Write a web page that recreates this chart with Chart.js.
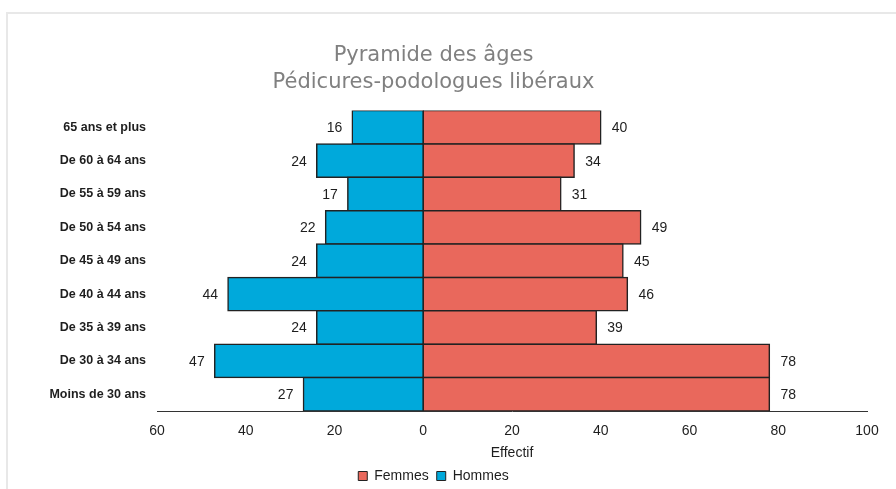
<!DOCTYPE html>
<html lang="fr">
<head>
<meta charset="utf-8">
<title>Pyramide des âges</title>
<script src="https://cdn.jsdelivr.net/npm/chart.js@4/dist/chart.umd.min.js"></script>
<style>
  html, body { margin: 0; padding: 0; background: #fff; }
  #wrap { position: relative; width: 896px; height: 489px; overflow: hidden; }
  #frame { position: absolute; left: 6px; top: 12px; right: 0; bottom: -4px;
           border-top: 2px solid #e8e8e8; border-left: 2px solid #e8e8e8; }
  canvas { position: absolute; left: 0; top: 0; }
</style>
</head>
<body>
<div id="wrap">
  <div id="frame"></div>
  <!-- un peu plus haut que le cadre : la légende déborde légèrement en bas -->
  <canvas id="pyramide" width="896" height="493"></canvas>
</div>
<script>
// Tranches d'âge, de la plus âgée à la plus jeune
const tranches = [
  "65 ans et plus",
  "De 60 à 64 ans",
  "De 55 à 59 ans",
  "De 50 à 54 ans",
  "De 45 à 49 ans",
  "De 40 à 44 ans",
  "De 35 à 39 ans",
  "De 30 à 34 ans",
  "Moins de 30 ans",
];
const femmes = [40, 34, 31, 49, 45, 46, 39, 78, 78];
const hommes = [16, 24, 17, 22, 24, 44, 24, 47, 27];
const titre = ["Pyramide des âges", "Pédicures-podologues libéraux"];

const COUL_FEMMES = "#E9685C";
const COUL_HOMMES = "#00A9DB";
const BORDURE = "#222";
const EP_BORDURE = 1.5;
const TEXTE = "#1e1e1e";
const ARIAL = "'Liberation Sans', Arial, sans-serif";

// étiquettes de valeurs au bout de chaque barre
const etiquettes = {
  id: "etiquettes",
  afterDatasetsDraw(chart) {
    const ctx = chart.ctx;
    ctx.save();
    ctx.font = "14px " + ARIAL;
    ctx.fillStyle = TEXTE;
    ctx.textBaseline = "middle";
    chart.data.datasets.forEach((ds, i) => {
      const meta = chart.getDatasetMeta(i);
      meta.data.forEach((bar, j) => {
        const v = ds.data[j];
        if (v < 0) {
          ctx.textAlign = "right";
          ctx.fillText(String(-v), bar.x - 10, bar.y + 1);
        } else {
          ctx.textAlign = "left";
          ctx.fillText(String(v), bar.x + 11, bar.y + 1);
        }
      });
    });
    ctx.restore();
  },
};

new Chart(document.getElementById("pyramide"), {
  type: "bar",
  data: {
    labels: tranches,
    datasets: [
      {
        label: "Femmes",
        data: femmes,
        backgroundColor: COUL_FEMMES,
      },
      {
        label: "Hommes",
        data: hommes.map((v) => -v),
        backgroundColor: COUL_HOMMES,
      },
    ],
  },
  options: {
    indexAxis: "y",
    responsive: false,
    animation: false,
    events: [],
    datasets: {
      bar: {
        barPercentage: 1,
        categoryPercentage: 1,
        borderColor: BORDURE,
        borderWidth: EP_BORDURE,
        borderSkipped: false,
        // bordure centrée sur le bord : les barres voisines partagent le même trait
        inflateAmount: EP_BORDURE / 2,
      },
    },
    layout: { padding: { left: 0, right: 29, top: 0, bottom: 0 } },
    scales: {
      x: {
        stacked: true,
        min: -60,
        max: 100,
        grid: { display: false, drawTicks: false },
        border: { display: true, color: "#333", width: 1 },
        ticks: {
          stepSize: 20,
          padding: 12,
          color: TEXTE,
          font: { family: ARIAL, size: 14 },
          callback: (v) => Math.abs(v),
        },
        title: {
          display: true,
          text: "Effectif",
          color: TEXTE,
          font: { family: ARIAL, size: 14 },
          padding: { top: 0, bottom: -1 },
        },
        afterFit: (s) => { s.height = 50; },
      },
      y: {
        stacked: true,
        grid: { display: false, drawTicks: false },
        border: { display: false },
        ticks: {
          padding: 11,
          color: TEXTE,
          font: { family: ARIAL, size: 12.5, weight: "bold" },
        },
        afterFit: (s) => { s.width = 157; },
      },
    },
    plugins: {
      title: {
        display: true,
        text: titre,
        color: "#808080",
        font: { family: "'DejaVu Sans', Verdana, sans-serif", size: 21, weight: "normal", lineHeight: 1.3 },
        padding: { top: 42, bottom: 14 },
      },
      legend: {
        position: "bottom",
        labels: {
          boxWidth: 9,
          boxHeight: 9,
          padding: 8,
          color: TEXTE,
          font: { family: ARIAL, size: 14 },
          generateLabels: (chart) => chart.data.datasets.map((ds, i) => ({
            text: ds.label,
            fillStyle: ds.backgroundColor,
            strokeStyle: BORDURE,
            lineWidth: 1,
            fontColor: TEXTE,
            datasetIndex: i,
          })),
        },
      },
      tooltip: { enabled: false },
    },
  },
  plugins: [etiquettes],
});
</script>
</body>
</html>
